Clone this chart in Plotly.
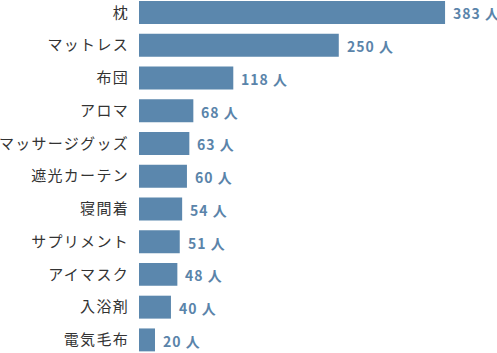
import plotly.graph_objects as go

categories = ["枕", "マットレス", "布団", "アロマ", "マッサージグッズ", "遮光カーテン",
              "寝間着", "サプリメント", "アイマスク", "入浴剤", "電気毛布"]
values = [383, 250, 118, 68, 63, 60, 54, 51, 48, 40, 20]
unit = "人"

bar_color = "#5b87ad"
label_color = "#5a84aa"

fig = go.Figure()
fig.add_trace(go.Bar(
    x=values, y=categories, orientation="h",
    marker=dict(color=bar_color, line=dict(width=0)),
    hoverinfo="skip",
))

for c, v in zip(categories, values):
    fig.add_annotation(
        x=v, y=c, text=f'<span style="letter-spacing:1px">{v} {unit}</span>', showarrow=False,
        xanchor="left", yanchor="middle", xshift=6, yshift=-1,
        font=dict(family="Noto Sans CJK JP", size=14, color=label_color, weight="bold"),
    )

ticktext = [f'<span style="letter-spacing:1.3px">{c}</span>' for c in categories]

fig.update_layout(
    width=497, height=353,
    margin=dict(l=139, r=0, t=0, b=0),
    paper_bgcolor="white", plot_bgcolor="white",
    bargap=0.3,
    showlegend=False,
    xaxis=dict(range=[0, 448], visible=False, fixedrange=True),
    yaxis=dict(
        range=[10.4, -0.38], tickmode="array", tickvals=categories, ticktext=ticktext,
        ticks="outside", ticklen=6, tickcolor="rgba(0,0,0,0)",
        showgrid=False, zeroline=False, showline=False,
        tickfont=dict(family="Noto Sans CJK JP", size=15, color="#333333"),
    ),
)

fig.write_html("out.html")
